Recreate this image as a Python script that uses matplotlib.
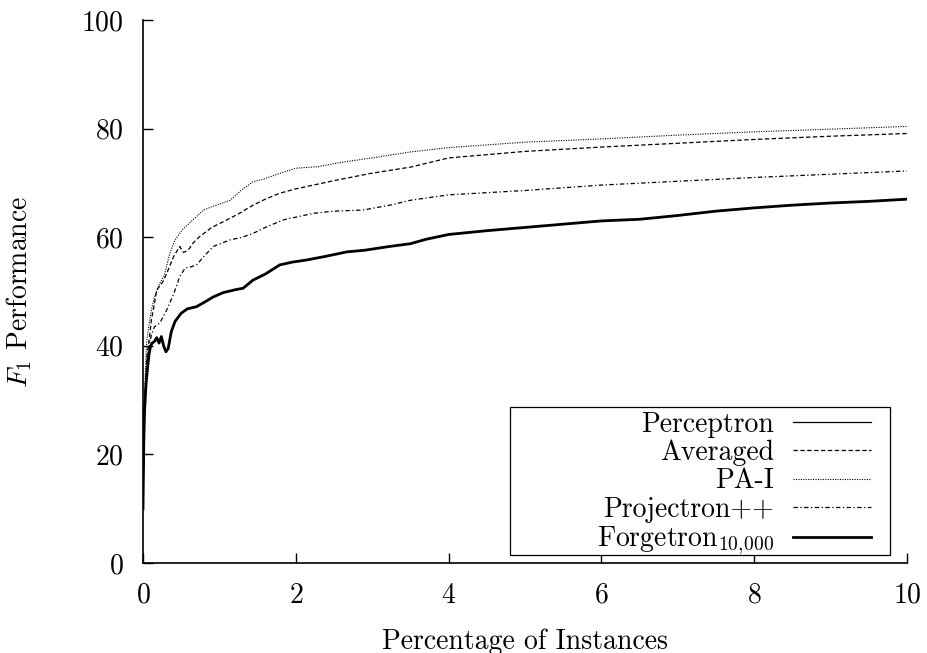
import numpy as np
import matplotlib
matplotlib.use("Agg")
import matplotlib.pyplot as plt
from matplotlib.patches import Rectangle

plt.rcParams['font.family'] = ['cmr10', 'DejaVu Serif']
plt.rcParams['mathtext.fontset'] = 'cm'
plt.rcParams['axes.formatter.use_mathtext'] = True

# Perceptron / Forgetron (overlap, budget never reached)
x_perc = [0, 0.01, 0.02, 0.04, 0.06, 0.08, 0.10, 0.12, 0.15, 0.18, 0.21, 0.24, 0.27,
          0.30, 0.33, 0.37, 0.42, 0.5, 0.58, 0.7, 0.8, 0.92, 1.05, 1.2, 1.31, 1.44,
          1.6, 1.79, 1.95, 2.14, 2.4, 2.67, 2.9, 3.23, 3.5, 3.7, 4.0, 4.5, 5.0, 5.5,
          6.0, 6.5, 7.0, 7.5, 8.0, 8.5, 9.0, 9.5, 10.0]
y_perc = [10, 22, 28, 33, 36, 38.5, 40, 40.5, 40.8, 41.5, 40.5, 41.7, 40.0,
          38.9, 39.5, 42.6, 44.5, 46, 46.8, 47.2, 48, 49, 49.8, 50.3, 50.6, 52.1,
          53.2, 54.9, 55.4, 55.8, 56.5, 57.3, 57.6, 58.3, 58.8, 59.6, 60.5, 61.2, 61.8, 62.4,
          63, 63.3, 64, 64.8, 65.4, 65.9, 66.3, 66.6, 67]

x_avg = [0, 0.01, 0.03, 0.05, 0.08, 0.11, 0.14, 0.18, 0.22, 0.27, 0.33, 0.40, 0.48,
         0.53, 0.59, 0.66, 0.74, 0.9, 1.10, 1.25, 1.44, 1.6, 1.79, 2.0, 2.23, 2.53,
         3.0, 3.5, 4.0, 5.0, 6.0, 7.0, 8.0, 9.0, 10.0]
y_avg = [10, 22, 32, 38, 41, 44.8, 47, 50.3, 51, 52, 54, 56.4, 58.3,
         57.2, 57.6, 59, 60.1, 61.8, 63.2, 64.3, 65.9, 67, 68.1, 68.9, 69.6, 70.5,
         71.8, 72.9, 74.6, 75.8, 76.6, 77.3, 78, 78.6, 79.1]

x_pa = [0, 0.01, 0.03, 0.05, 0.08, 0.11, 0.15, 0.22, 0.28, 0.35, 0.42, 0.51, 0.6,
        0.7, 0.79, 0.9, 1.14, 1.3, 1.44, 1.6, 1.8, 2.0, 2.3, 2.6, 3.0, 3.5, 4.0,
        5.0, 6.0, 7.0, 8.0, 9.0, 10.0]
y_pa = [10, 24, 35, 41, 44, 46.6, 49, 51.5, 53, 57, 59.5, 61.3, 62.5,
        63.8, 65, 65.6, 66.8, 68.8, 70.2, 70.8, 71.8, 72.7, 73, 73.8, 74.6, 75.7, 76.5,
        77.5, 78.1, 78.8, 79.4, 79.9, 80.4]

x_proj = [0, 0.01, 0.03, 0.05, 0.08, 0.11, 0.15, 0.22, 0.31, 0.4, 0.48, 0.55, 0.62,
          0.70, 0.8, 0.92, 1.14, 1.3, 1.44, 1.6, 1.84, 2.23, 2.5, 2.88, 3.23, 3.5,
          4.0, 5.0, 6.0, 7.0, 8.0, 9.0, 10.0]
y_proj = [10, 22, 31, 37, 40, 42, 43.5, 44.2, 46.6, 49.5, 52.7, 54.3, 54.5,
          54.9, 56.5, 58.3, 59.5, 60, 60.7, 61.8, 63.2, 64.4, 64.8, 65.0, 65.9, 66.8,
          67.8, 68.6, 69.6, 70.3, 71.0, 71.6, 72.2]

fs = 20
fig = plt.figure(figsize=(9.27, 6.53), dpi=100)
ax = fig.add_axes([143/927, 90/653, 764/927, 543/653])

ax.plot(x_perc, y_perc, color='black', lw=0.9, label='Perceptron')
ax.plot(x_avg, y_avg, color='black', lw=0.9, ls=(0, (3.5, 2)), label='Averaged')
ax.plot(x_pa, y_pa, color='black', lw=0.8, ls=(0, (1, 1.2)), label='PA-I')
ax.plot(x_proj, y_proj, color='black', lw=0.9, ls=(0, (3.5, 2, 1, 2)), label='Projectron++')
ax.plot(x_perc, y_perc, color='black', lw=2.0, label='Forgetron$_{10,\\!000}$')

ax.set_xlim(0, 10)
ax.set_ylim(0, 100)
ax.set_xticks(np.arange(0, 11, 2))
ax.set_yticks(np.arange(0, 101, 20))
for s in ['top', 'right']:
    ax.spines[s].set_visible(False)
for s in ['left', 'bottom']:
    ax.spines[s].set_linewidth(1.2)
ax.tick_params(direction='in', length=7, width=1, labelsize=fs, pad=14)

ax.set_xlabel('Percentage of Instances', size=fs, labelpad=14)
ax.set_ylabel('$F_1$ Performance', size=fs, labelpad=34)

# gnuplot-style key box (wider than its contents)
ax.add_patch(Rectangle((0.4804, 0.0147), 0.4973, 0.2726, transform=ax.transAxes,
                       facecolor='white', edgecolor='black', lw=0.9, zorder=4))
leg = ax.legend(loc='lower right', bbox_to_anchor=(0.953, 0.011), borderaxespad=0,
                markerfirst=False, frameon=False,
                fontsize=fs, handlelength=2.8, handletextpad=0.7, labelspacing=0.07,
                borderpad=0)

fig.savefig('out.png', dpi=100)
